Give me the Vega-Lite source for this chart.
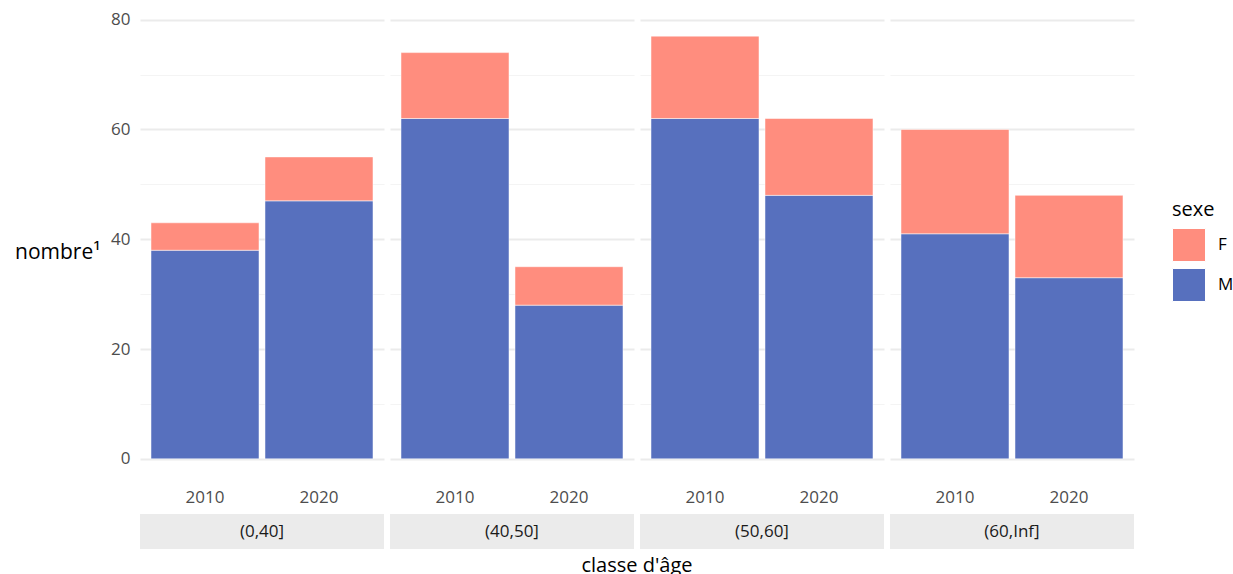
{
  "$schema": "https://vega.github.io/schema/vega-lite/v6.json",
  "background": "white",
  "padding": {"left": 9, "top": 10, "right": 0, "bottom": 0},
  "config": {"font": "Open Sans", "view": {"stroke": null}, "concat": {"spacing": 9}},
  "datasets": {
    "d": [
      {"classe": "(0,40]", "annee": "2010", "sexe": "M", "n": 38},
      {"classe": "(0,40]", "annee": "2010", "sexe": "F", "n": 5},
      {"classe": "(0,40]", "annee": "2020", "sexe": "M", "n": 47},
      {"classe": "(0,40]", "annee": "2020", "sexe": "F", "n": 8},
      {"classe": "(40,50]", "annee": "2010", "sexe": "M", "n": 62},
      {"classe": "(40,50]", "annee": "2010", "sexe": "F", "n": 12},
      {"classe": "(40,50]", "annee": "2020", "sexe": "M", "n": 28},
      {"classe": "(40,50]", "annee": "2020", "sexe": "F", "n": 7},
      {"classe": "(50,60]", "annee": "2010", "sexe": "M", "n": 62},
      {"classe": "(50,60]", "annee": "2010", "sexe": "F", "n": 15},
      {"classe": "(50,60]", "annee": "2020", "sexe": "M", "n": 48},
      {"classe": "(50,60]", "annee": "2020", "sexe": "F", "n": 14},
      {"classe": "(60,Inf]", "annee": "2010", "sexe": "M", "n": 41},
      {"classe": "(60,Inf]", "annee": "2010", "sexe": "F", "n": 19},
      {"classe": "(60,Inf]", "annee": "2020", "sexe": "M", "n": 33},
      {"classe": "(60,Inf]", "annee": "2020", "sexe": "F", "n": 15}
    ]
  },
  "data": {"name": "d"},
  "vconcat": [
    {
      "facet": {"column": {"field": "classe", "type": "nominal", "sort": ["(0,40]", "(40,50]", "(50,60]", "(60,Inf]"], "header": null}},
      "spacing": 6,
      "spec": {
        "width": 244,
        "height": 465,
        "mark": {"type": "bar", "stroke": "white", "strokeWidth": 0.5},
        "encoding": {
          "x": {
            "field": "annee", "type": "ordinal",
            "scale": {"paddingInner": 0.0526, "paddingOuter": 0.0965},
            "axis": {"title": null, "labelAngle": 0, "ticks": false, "domain": false, "labelPadding": 9, "labelFontSize": 17, "labelColor": "#4d4d4d", "grid": false}
          },
          "y": {
            "field": "n", "type": "quantitative", "stack": "zero",
            "scale": {"domain": [-3.85, 80.85], "nice": false, "zero": false},
            "axis": {
              "title": "nombre¹", "titleAngle": 0, "titleAlign": "right", "titleBaseline": "middle",
              "titleX": -40, "titleY": 237, "titleFontSize": 21, "titleFontWeight": "normal", "titleColor": "#000000",
              "values": [0, 10, 20, 30, 40, 50, 60, 70, 80],
              "labelExpr": "datum.value % 20 === 0 ? datum.label : ''",
              "labelFontSize": 17, "labelColor": "#4d4d4d", "labelPadding": 10,
              "ticks": false, "domain": false,
              "gridColor": {"condition": {"test": "datum.value % 20 === 0", "value": "#ebebeb"}, "value": "#f4f4f4"},
              "gridWidth": {"condition": {"test": "datum.value % 20 === 0", "value": 2}, "value": 1.2}
            }
          },
          "color": {
            "field": "sexe", "type": "nominal",
            "scale": {"domain": ["F", "M"], "range": ["#FF8D7E", "#5770BE"]},
            "legend": {
              "title": "sexe", "orient": "none", "legendX": 1032, "legendY": 185,
              "symbolType": "square", "symbolSize": 1089, "symbolStrokeColor": "white", "symbolStrokeWidth": 1,
              "titleFontSize": 20, "titleFontWeight": "normal", "titleColor": "#000000",
              "labelFontSize": 17, "labelColor": "#000000", "rowPadding": 2, "titlePadding": 8, "labelOffset": 12
            }
          },
          "order": {"field": "sexe", "sort": "descending"}
        }
      }
    },
    {
      "transform": [{"filter": "datum.sexe === 'M' && datum.annee === '2010'"}],
      "facet": {
        "column": {
          "field": "classe", "type": "nominal", "sort": ["(0,40]", "(40,50]", "(50,60]", "(60,Inf]"],
          "header": {"title": "classe d'âge", "titleOrient": "bottom", "labels": false, "titleFontSize": 20, "titleFontWeight": "normal", "titleColor": "#000000", "titlePadding": -3}
        }
      },
      "spacing": 6,
      "spec": {
        "width": 244,
        "height": 35,
        "view": {"fill": "#ebebeb", "stroke": null},
        "mark": {"type": "text", "fontSize": 17, "color": "#1a1a1a", "baseline": "middle", "align": "center"},
        "encoding": {
          "y": {
            "datum": 40, "type": "quantitative",
            "scale": {"domain": [0, 80]},
            "axis": {"title": "nombre¹", "titleAngle": 0, "titleAlign": "right", "titleBaseline": "middle", "titleX": -40, "titleY": 17, "titleFontSize": 21, "titleOpacity": 0, "labels": false, "ticks": false, "domain": false, "grid": false}
          },
          "text": {"field": "classe", "type": "nominal"}
        }
      }
    }
  ]
}
